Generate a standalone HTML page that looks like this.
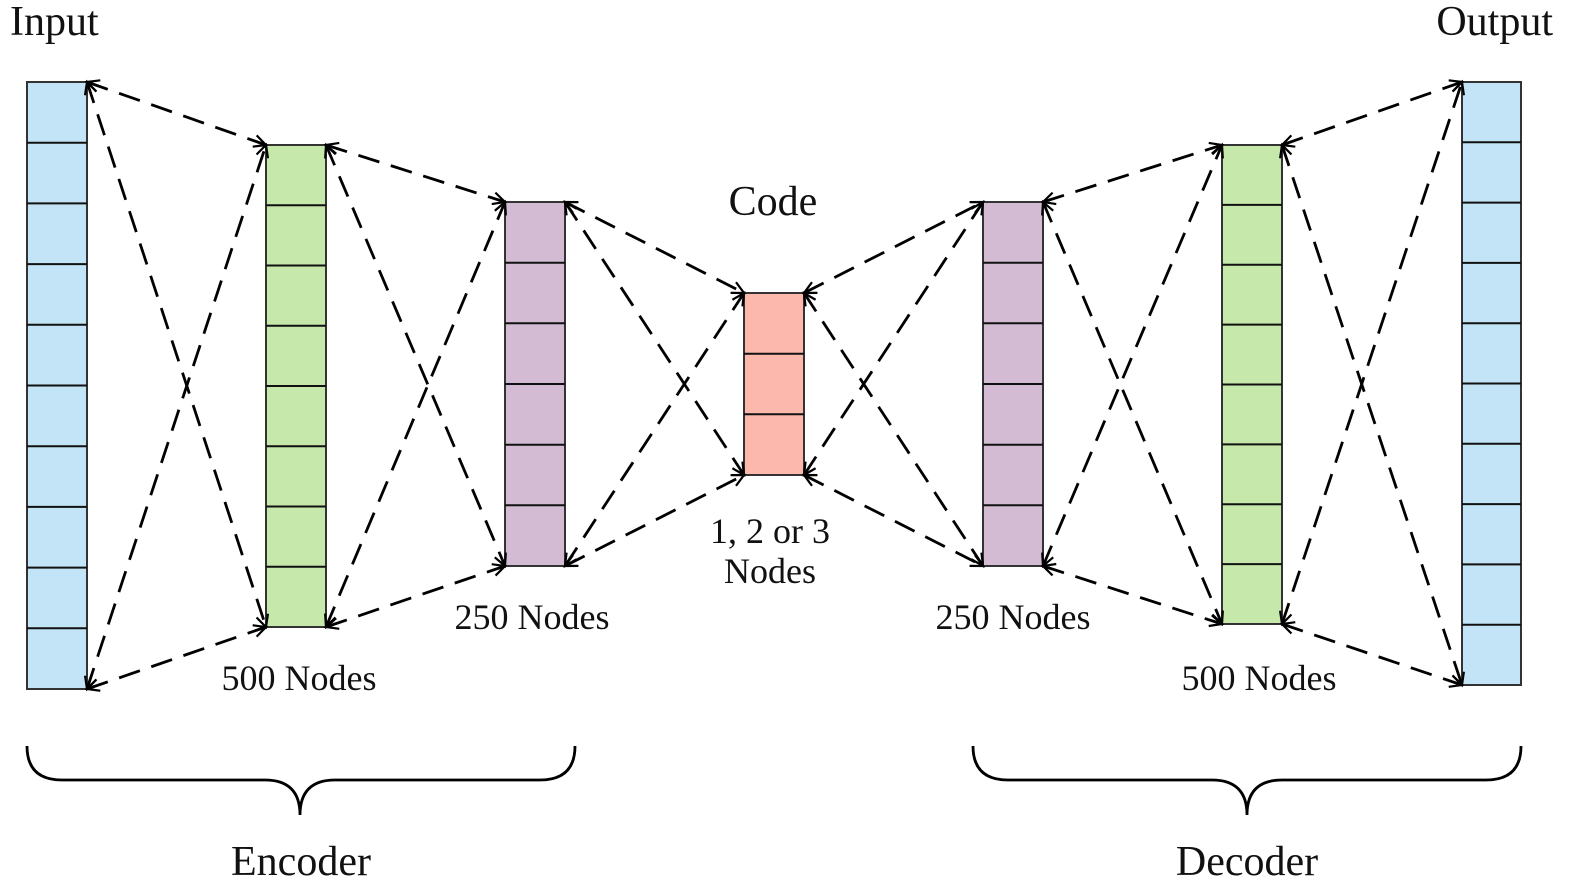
<!DOCTYPE html>
<html><head><meta charset="utf-8"><style>
html,body{margin:0;padding:0;background:#fff;width:1574px;height:896px;overflow:hidden}
svg{display:block}
text{font-family:"Liberation Serif",serif;fill:#111}
</style></head><body>
<svg width="1574" height="896" viewBox="0 0 1574 896">
<defs>
<marker id="a" markerWidth="16" markerHeight="16" refX="0" refY="8" orient="auto-start-reverse" markerUnits="userSpaceOnUse" overflow="visible">
<path d="M-12,2 L0,8 L-12,14" fill="none" stroke="#000" stroke-width="2.2"/>
</marker>
</defs>
<g stroke="#333" stroke-width="2">
<rect x="27" y="82" width="60" height="607" fill="#c3e4f6"/>
<rect x="266" y="145" width="60" height="482" fill="#c6e8ab"/>
<rect x="505" y="202" width="60" height="364" fill="#d3bcd3"/>
<rect x="744" y="293" width="60" height="182" fill="#fdb8ae"/>
<rect x="983" y="202" width="60" height="364" fill="#d3bcd3"/>
<rect x="1222" y="145" width="60" height="479" fill="#c6e8ab"/>
<rect x="1462" y="82" width="59" height="603" fill="#c3e4f6"/>
</g>
<g stroke="#111" stroke-width="2">
<path d="M27,142.7H87M27,203.4H87M27,264.1H87M27,324.8H87M27,385.5H87M27,446.2H87M27,506.9H87M27,567.6H87M27,628.3H87"/>
<path d="M266,205.25H326M266,265.5H326M266,325.75H326M266,386H326M266,446.25H326M266,506.5H326M266,566.75H326"/>
<path d="M505,262.7H565M505,323.3H565M505,384H565M505,444.7H565M505,505.3H565"/>
<path d="M744,353.7H804M744,414.3H804"/>
<path d="M983,262.7H1043M983,323.3H1043M983,384H1043M983,444.7H1043M983,505.3H1043"/>
<path d="M1222,204.9H1282M1222,264.75H1282M1222,324.6H1282M1222,384.5H1282M1222,444.4H1282M1222,504.25H1282M1222,564.1H1282"/>
<path d="M1462,142.3H1521M1462,202.6H1521M1462,262.9H1521M1462,323.2H1521M1462,383.5H1521M1462,443.8H1521M1462,504.1H1521M1462,564.4H1521M1462,624.7H1521"/>
</g>
<g stroke="#000" stroke-width="2.8" stroke-dasharray="22,12" fill="none" marker-start="url(#a)" marker-end="url(#a)">
<line x1="87" y1="82" x2="266" y2="145"/><line x1="87" y1="689" x2="266" y2="627"/>
<line x1="87" y1="82" x2="266" y2="627"/><line x1="87" y1="689" x2="266" y2="145"/>
<line x1="326" y1="145" x2="505" y2="202"/><line x1="326" y1="627" x2="505" y2="566"/>
<line x1="326" y1="145" x2="505" y2="566"/><line x1="326" y1="627" x2="505" y2="202"/>
<line x1="565" y1="202" x2="744" y2="293"/><line x1="565" y1="566" x2="744" y2="475"/>
<line x1="565" y1="202" x2="744" y2="475"/><line x1="565" y1="566" x2="744" y2="293"/>
<line x1="804" y1="293" x2="983" y2="202"/><line x1="804" y1="475" x2="983" y2="566"/>
<line x1="804" y1="293" x2="983" y2="566"/><line x1="804" y1="475" x2="983" y2="202"/>
<line x1="1043" y1="202" x2="1222" y2="145"/><line x1="1043" y1="566" x2="1222" y2="624"/>
<line x1="1043" y1="202" x2="1222" y2="624"/><line x1="1043" y1="566" x2="1222" y2="145"/>
<line x1="1282" y1="145" x2="1462" y2="82"/><line x1="1282" y1="624" x2="1462" y2="685"/>
<line x1="1282" y1="145" x2="1462" y2="685"/><line x1="1282" y1="624" x2="1462" y2="82"/>
</g>
<g stroke="#000" stroke-width="2.8" fill="none">
<path d="M27,746 Q27,780 62,780 L265,780 Q300,780 300,815 Q300,780 335,780 L540,780 Q575,780 575,746"/>
<path d="M973,746 Q973,780 1008,780 L1212,780 Q1247,780 1247,815 Q1247,780 1282,780 L1486,780 Q1521,780 1521,746"/>
</g>
<text x="10" y="35" font-size="42">Input</text>
<text x="1553" y="35" font-size="42" text-anchor="end">Output</text>
<text x="773" y="215" font-size="42" text-anchor="middle">Code</text>
<text x="770" y="543" font-size="36" text-anchor="middle">1, 2 or 3</text>
<text x="770" y="583" font-size="36" text-anchor="middle">Nodes</text>
<text x="532" y="629" font-size="36" text-anchor="middle">250 Nodes</text>
<text x="1013" y="629" font-size="36" text-anchor="middle">250 Nodes</text>
<text x="299" y="690" font-size="36" text-anchor="middle">500 Nodes</text>
<text x="1259" y="690" font-size="36" text-anchor="middle">500 Nodes</text>
<text x="301" y="875" font-size="42" text-anchor="middle">Encoder</text>
<text x="1247" y="875" font-size="42" text-anchor="middle">Decoder</text>
</svg>
</body></html>
